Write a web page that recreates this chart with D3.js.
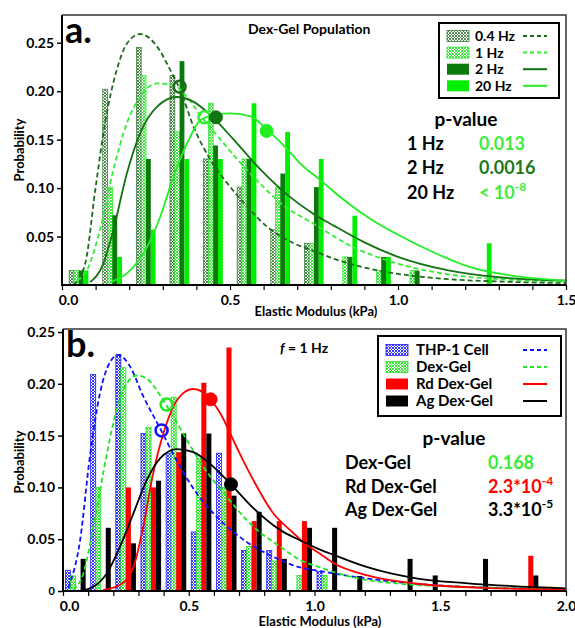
<!DOCTYPE html>
<html>
<head>
<meta charset="utf-8">
<script src="https://cdn.jsdelivr.net/npm/d3@7"></script>
<style>
  body { margin: 0; background: #fff; }
  text { font-family: Lato, "Open Sans", sans-serif; font-weight: bold; }
</style>
</head>
<body>
<script>
// ---------- panel a : Dex-Gel population at four frequencies ----------
const binsA = [0.05, 0.15, 0.25, 0.35, 0.45, 0.55, 0.65, 0.75, 0.85, 0.95, 1.05, 1.15, 1.25]
const hz04 = [0.015, 0.202, 0.245, 0.216, 0.130, 0.101, 0.057, 0.043, 0, 0, 0, 0, 0]
const hz1  = [0.015, 0.101, 0.216, 0.158, 0.1875, 0.130, 0.101, 0.043, 0.029, 0.015, 0.015, 0, 0]
const hz2  = [0.015, 0.072, 0.130, 0.231, 0.144, 0.130, 0.115, 0.101, 0.029, 0.029, 0.015, 0, 0]
const hz20 = [0.015, 0.029, 0.057, 0.130, 0.130, 0.1875, 0.158, 0.130, 0.0715, 0.029, 0, 0, 0.043]

const fit04 = [[0.034,0],[0.069,0.022],[0.099,0.098],[0.128,0.167],[0.163,0.222],[0.193,0.249],[0.233,0.259],[0.283,0.246],[0.322,0.222],[0.352,0.201],[0.392,0.163],[0.442,0.129],[0.492,0.105],[0.551,0.081],[0.611,0.060],[0.69,0.043],[0.75,0.035],[0.81,0.027],[0.9,0.018],[1.01,0.011],[1.15,0.006],[1.31,0.0035],[1.5,0.002]]
const fit1 = [[0.044,0.005],[0.074,0.015],[0.113,0.057],[0.153,0.119],[0.193,0.167],[0.233,0.194],[0.283,0.208],[0.332,0.206],[0.372,0.194],[0.412,0.175],[0.472,0.150],[0.531,0.126],[0.591,0.104],[0.66,0.082],[0.75,0.063],[0.85,0.042],[1.0,0.022],[1.15,0.011],[1.3,0.006],[1.5,0.0035]]
const fit2 = [[0.084,0.003],[0.123,0.022],[0.153,0.057],[0.193,0.115],[0.233,0.157],[0.283,0.184],[0.342,0.194],[0.392,0.189],[0.452,0.172],[0.511,0.150],[0.591,0.119],[0.671,0.093],[0.75,0.073],[0.81,0.061],[0.9,0.044],[1.0,0.029],[1.15,0.015],[1.3,0.008],[1.5,0.0045]]
const fit20 = [[0.143,0.003],[0.193,0.012],[0.243,0.033],[0.293,0.071],[0.332,0.112],[0.372,0.146],[0.412,0.170],[0.46,0.176],[0.501,0.177],[0.561,0.174],[0.611,0.160],[0.671,0.140],[0.71,0.125],[0.77,0.108],[0.81,0.096],[0.91,0.070],[1.01,0.050],[1.11,0.033],[1.21,0.019],[1.36,0.0086],[1.5,0.0045]]

// marker positions [x, y]
const markA = [[0.350, 0.2046], [0.424, 0.173], [0.458, 0.173], [0.609, 0.159]]

const legendA = ["0.4 Hz", "1 Hz", "2 Hz", "20 Hz"]
const pRowsA = ["1 Hz", "2 Hz", "20 Hz"]
const pValsA = ["0.013", "0.0016", "< 10"]

// ---------- panel b : f = 1 Hz, four sample types ----------
const binsB = [0.05, 0.15, 0.25, 0.35, 0.45, 0.55, 0.65, 0.75, 0.85, 0.95, 1.05, 1.15, 1.25, 1.35, 1.45, 1.55, 1.65, 1.75, 1.85, 1.95]
const thp1 = [0.020, 0.209, 0.228, 0.152, 0.133, 0.057, 0.133, 0.039, 0.039, 0, 0.019, 0, 0, 0, 0, 0, 0, 0, 0, 0]
const dexGel = [0.0145, 0.100, 0.2155, 0.158, 0.187, 0.128, 0.100, 0.043, 0.029, 0.015, 0.015, 0, 0, 0, 0, 0, 0, 0, 0, 0]
const rdGel = [0, 0, 0.100, 0.100, 0.134, 0.201, 0.235, 0.0675, 0.0675, 0.0675, 0, 0, 0, 0, 0, 0, 0, 0, 0.034, 0]
const agGel = [0.031, 0.061, 0.046, 0.1065, 0.152, 0.152, 0.092, 0.0765, 0.031, 0.061, 0.061, 0.0145, 0, 0.031, 0.015, 0, 0.031, 0, 0.015, 0]

const fitThp = [[0.021,0.003],[0.068,0.049],[0.107,0.130],[0.147,0.191],[0.187,0.221],[0.220,0.228],[0.266,0.217],[0.319,0.188],[0.386,0.157],[0.452,0.126],[0.518,0.099],[0.598,0.075],[0.704,0.052],[0.836,0.033],[0.94,0.023],[1.05,0.018],[1.21,0.012],[1.4,0.007],[1.61,0.004],[2.0,0.0017]]
const fitDex = [[0.041,0.001],[0.081,0.017],[0.121,0.062],[0.160,0.114],[0.200,0.162],[0.240,0.194],[0.293,0.208],[0.333,0.205],[0.386,0.189],[0.439,0.168],[0.492,0.146],[0.558,0.120],[0.651,0.091],[0.757,0.062],[0.863,0.043],[0.942,0.030],[1.02,0.023],[1.14,0.014],[1.34,0.007],[1.61,0.004],[2.0,0.0018]]
const fitRd = [[0.160,0.001],[0.227,0.006],[0.280,0.023],[0.319,0.062],[0.359,0.114],[0.399,0.152],[0.439,0.178],[0.478,0.191],[0.518,0.195],[0.571,0.189],[0.624,0.172],[0.690,0.139],[0.757,0.107],[0.836,0.075],[0.916,0.056],[0.95,0.048],[1.022,0.036],[1.075,0.027],[1.21,0.015],[1.41,0.007],[1.67,0.003],[2.0,0.0015]]
const fitAg = [[0.068,0],[0.12,0.004],[0.174,0.017],[0.227,0.043],[0.280,0.075],[0.333,0.107],[0.386,0.128],[0.452,0.137],[0.518,0.134],[0.584,0.123],[0.664,0.104],[0.757,0.080],[0.863,0.059],[0.942,0.049],[1.022,0.040],[1.075,0.035],[1.21,0.023],[1.41,0.012],[1.61,0.0074],[2.0,0.0026]]

const markB = [[0.392, 0.155], [0.412, 0.180], [0.587, 0.185], [0.668, 0.103]]

const legendB = ["THP-1 Cell", "Dex-Gel", "Rd Dex-Gel", "Ag Dex-Gel"]
const pRowsB = ["Dex-Gel", "Rd Dex-Gel", "Ag Dex-Gel"]
const pValsB = ["0.168", "2.3*10", "3.3*10"]
const pExpB = ["", "-4", "-5"]

// ---------------------------------------------------------------
const svg = d3.select("body").append("svg")
  .attr("width", 575)
  .attr("height", 628)

const defs = svg.append("defs")
function hatch(id, color) {
  const p = defs.append("pattern")
    .attr("id", id)
    .attr("width", 3).attr("height", 3)
    .attr("patternUnits", "userSpaceOnUse")
  p.append("rect").attr("width", 3).attr("height", 3).attr("fill", "#fff")
  p.append("path").attr("d", "M0,0L3,3M3,0L0,3")
    .attr("stroke", color).attr("stroke-width", 0.9)
}
hatch("h04", "#3f7f3f")
hatch("h1", "#2ee62e")
hatch("hBlue", "#2020ff")
hatch("hGreen", "#22e622")

function drawPanel(o) {
  const x = d3.scaleLinear().domain([0, o.xmax]).range([o.left, o.right])
  const y = d3.scaleLinear().domain([0, o.ymax]).range([o.bottom, o.top])
  const g = svg.append("g")

  g.append("clipPath").attr("id", "clip" + o.id)
    .append("rect").attr("x", o.left).attr("y", o.top)
    .attr("width", o.right - o.left).attr("height", o.bottom - o.top)

  // bars
  o.series.forEach((s, i) => {
    g.selectAll(null)
      .data(o.bins.map((b, k) => ({b: b, v: s.values[k]})).filter(d => d.v > 0))
      .enter().append("rect")
      .attr("x", d => x(d.b - 2 * o.bw + i * o.bw))
      .attr("width", x(o.bw) - x(0))
      .attr("y", d => y(d.v))
      .attr("height", d => y(0) - y(d.v))
      .attr("fill", s.fill)
      .attr("stroke", s.hatch ? s.color : "none")
      .attr("stroke-width", 0.8)
  })

  // fitted curves
  const line = d3.line().x(d => x(d[0])).y(d => y(d[1])).curve(d3.curveMonotoneX)
  const cg = g.append("g").attr("clip-path", "url(#clip" + o.id + ")")
  o.series.forEach(s => {
    cg.append("path")
      .attr("d", line(s.fit))
      .attr("fill", "none")
      .attr("stroke", s.line)
      .attr("stroke-width", 1.8)
      .attr("stroke-dasharray", s.dashed ? "5,3" : null)
  })

  // markers
  o.series.forEach((s, i) => {
    const m = o.marks[i]
    cg.append("circle")
      .attr("cx", x(m[0])).attr("cy", y(m[1]))
      .attr("r", s.open ? 6 : 6.5)
      .attr("fill", s.open ? "none" : s.line)
      .attr("stroke", s.line)
      .attr("stroke-width", s.open ? 2.5 : 1)
  })

  // frame
  g.append("path")
    .attr("d", `M${o.left},${o.top}H${o.right}V${o.bottom}`)
    .attr("fill", "none").attr("stroke", "#333").attr("stroke-width", 1.5)

  // axes
  const yAxis = d3.axisLeft(y).tickValues(o.yticks).tickSize(5).tickPadding(3)
    .tickFormat(d => d === 0 ? "0" : d3.format(".2f")(d))
  const ya = g.append("g").attr("transform", `translate(${o.left},0)`).call(yAxis)
  ya.select(".domain").remove()
  ya.selectAll("line").attr("stroke", "#000").attr("stroke-width", 1.5)
  ya.selectAll("text").attr("font-size", d => d === 0 ? 11 : 14).attr("fill", "#000")
    .attr("font-weight", d => d === 0 ? "normal" : "bold")

  const xAxis = d3.axisBottom(x).tickValues(d3.range(0, o.xmax + 0.01, 0.1)).tickSize(5).tickPadding(5)
    .tickFormat(d => Math.abs(d * 2 - Math.round(d * 2)) < 1e-6 ? d3.format(".1f")(d) : "")
  const xa = g.append("g").attr("transform", `translate(0,${o.bottom})`).call(xAxis)
  xa.select(".domain").remove()
  xa.selectAll("line").attr("stroke", "#000").attr("stroke-width", 1.2)
  xa.selectAll("text").attr("font-size", 14).attr("fill", "#000")
    .attr("dx", d => d === 0 ? 6 : 0)

  g.append("path")
    .attr("d", `M${o.left},${o.top}V${o.bottom}H${o.right}`)
    .attr("fill", "none").attr("stroke", "#000").attr("stroke-width", 2)

  // axis titles
  g.append("text").attr("x", o.xtitle[0]).attr("y", o.xtitle[1])
    .attr("text-anchor", "middle").attr("font-size", 13).text("Elastic Modulus (kPa)")
  g.append("text").attr("transform", `translate(${o.ytitle[0]},${o.ytitle[1]}) rotate(-90)`)
    .attr("text-anchor", "middle").attr("font-size", 13).text("Probability")

  // panel letter
  g.append("text").attr("x", o.left + 3).attr("y", o.top + 28)
    .attr("font-size", 36).text(o.letter)

  // legend
  const L = o.legend
  g.append("rect").attr("x", L.x).attr("y", L.y).attr("width", L.w).attr("height", L.h)
    .attr("fill", "#fff").attr("stroke", "#000").attr("stroke-width", 2)
  o.series.forEach((s, i) => {
    const cy = L.y + L.row0 + i * L.dy
    g.append("rect").attr("x", L.x + 8).attr("y", cy - 5.5).attr("width", 22).attr("height", 11)
      .attr("fill", s.fill).attr("stroke", s.hatch ? s.color : "none").attr("stroke-width", 0.8)
    g.append("text").attr("x", L.x + L.tx).attr("y", cy + 5).attr("font-size", L.fs).text(o.legendNames[i])
    g.append("line").attr("x1", L.x + L.lx).attr("x2", L.x + L.lx + 24).attr("y1", cy).attr("y2", cy)
      .attr("stroke", s.line).attr("stroke-width", 2)
      .attr("stroke-dasharray", s.dashed ? "4,3" : null)
  })
  return g
}

const gA = drawPanel({
  id: "a", letter: "a.", xmax: 1.5, ymax: 0.2786,
  left: 62, right: 566, top: 15, bottom: 285, bw: 0.0143,
  bins: binsA, yticks: [0.05, 0.10, 0.15, 0.20, 0.25],
  xtitle: [316, 316], ytitle: [24, 150],
  series: [
    {values: hz04, fill: "url(#h04)", hatch: true, color: "#3f7f3f", line: "#1e6b1e", dashed: true, open: true, fit: fit04},
    {values: hz1, fill: "url(#h1)", hatch: true, color: "#2ee62e", line: "#33ee33", dashed: true, open: true, fit: fit1},
    {values: hz2, fill: "#0b7a0b", color: "#0b7a0b", line: "#127312", dashed: false, open: false, fit: fit2},
    {values: hz20, fill: "#00ee00", color: "#00ee00", line: "#22ee22", dashed: false, open: false, fit: fit20}
  ],
  marks: markA, legendNames: legendA,
  legend: {x: 439, y: 23, w: 120, h: 75, row0: 13, dy: 16.6, tx: 36, lx: 84, fs: 14}
})

gA.append("text").attr("x", 248).attr("y", 34).attr("font-size", 14).text("Dex-Gel Population")
gA.append("text").attr("x", 466).attr("y", 126).attr("text-anchor", "middle").attr("font-size", 19)
  .attr("font-weight", 600).text("p-value")
const pColA = ["#3ded3d", "#1a7a1a", "#3ded3d"]
pRowsA.forEach((r, i) => {
  const yy = 150 + i * 24.3
  gA.append("text").attr("x", 407).attr("y", yy).attr("font-size", 18).text(r)
  const t = gA.append("text").attr("x", 479).attr("y", yy).attr("font-size", 18)
    .attr("fill", pColA[i]).text(pValsA[i])
  if (i === 2) t.append("tspan").attr("dy", -8).attr("font-size", 12).text("-8")
})

const gB = drawPanel({
  id: "b", letter: "b.", xmax: 2.0, ymax: 0.2529,
  left: 63, right: 566, top: 329, bottom: 591, bw: 0.02,
  bins: binsB, yticks: [0, 0.05, 0.10, 0.15, 0.20, 0.25],
  xtitle: [320, 626], ytitle: [24, 462],
  series: [
    {values: thp1, fill: "url(#hBlue)", hatch: true, color: "#2020ff", line: "#1010ff", dashed: true, open: true, fit: fitThp},
    {values: dexGel, fill: "url(#hGreen)", hatch: true, color: "#22e622", line: "#22e622", dashed: true, open: true, fit: fitDex},
    {values: rdGel, fill: "#ff0000", color: "#ff0000", line: "#ff0000", dashed: false, open: false, fit: fitRd},
    {values: agGel, fill: "#000", color: "#000", line: "#000", dashed: false, open: false, fit: fitAg}
  ],
  marks: markB, legendNames: legendB,
  legend: {x: 378, y: 336, w: 183, h: 80, row0: 14, dy: 17, tx: 38, lx: 145, fs: 15}
})

const fText = gB.append("text").attr("x", 280).attr("y", 353).attr("font-size", 14)
fText.append("tspan").attr("font-style", "italic").text("f")
fText.append("tspan").text(" = 1 Hz")

gB.append("text").attr("x", 454).attr("y", 445).attr("text-anchor", "middle").attr("font-size", 19)
  .attr("font-weight", 600).text("p-value")
const pColB = ["#33ee33", "#ff0000", "#000"]
pRowsB.forEach((r, i) => {
  const yy = 469 + i * 23.6
  gB.append("text").attr("x", 345).attr("y", yy).attr("font-size", 18).text(r)
  const t = gB.append("text").attr("x", 488).attr("y", yy).attr("font-size", 18)
    .attr("fill", pColB[i]).text(pValsB[i])
  if (pExpB[i]) t.append("tspan").attr("dy", -8).attr("font-size", 12).text(pExpB[i])
})
</script>
</body>
</html>
